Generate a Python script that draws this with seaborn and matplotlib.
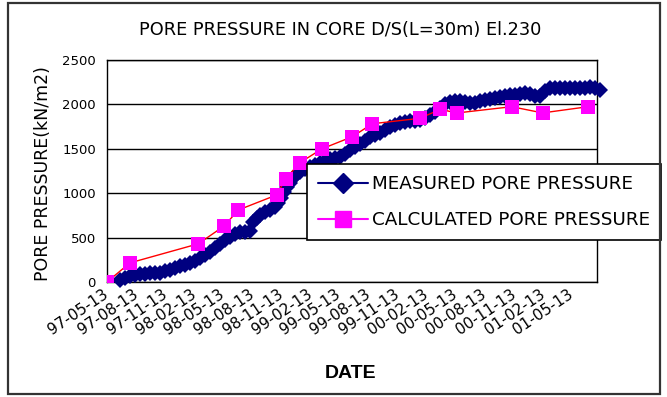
import matplotlib
matplotlib.use("Agg")
import matplotlib.pyplot as plt
from matplotlib.lines import Line2D
from matplotlib.patches import Rectangle
import pandas as pd
import seaborn as sns

# ---- data -------------------------------------------------------------
start_date = "1997-05-13"

# measured piezometer readings: days since start, pressure (kN/m2)
measured_day = [41, 57, 72, 88, 104, 119, 135, 151, 167, 182, 198, 214, 229, 245,
                261, 276, 292, 308, 324, 339, 355, 371, 386, 402, 418, 434, 449, 459,
                471, 481, 496, 512, 528, 537, 547, 556, 566, 575, 584, 594, 606, 622,
                638, 654, 669, 685, 701, 716, 732, 748, 763, 779, 795, 811, 826, 842,
                858, 873, 889, 905, 921, 936, 952, 968, 983, 999, 1015, 1031, 1046,
                1062, 1078, 1093, 1109, 1125, 1141, 1156, 1172, 1188, 1203, 1219, 1235,
                1251, 1266, 1282, 1298, 1313, 1329, 1345, 1360, 1376, 1392, 1408, 1423,
                1439, 1455, 1470, 1486, 1502, 1518, 1533, 1549]
measured_kpa = [20, 50, 65, 80, 85, 95, 100, 100, 105, 125, 140, 160, 175, 190,
                210, 235, 270, 305, 340, 380, 430, 475, 510, 540, 560, 565, 570, 670,
                720, 755, 785, 810, 850, 890, 950, 1010, 1070, 1120, 1170, 1210, 1240, 1270,
                1290, 1320, 1340, 1360, 1380, 1400, 1410, 1440, 1490, 1520, 1550, 1590, 1630, 1660,
                1680, 1710, 1740, 1765, 1790, 1800, 1810, 1815, 1825, 1850, 1880, 1910, 1960,
                2000, 2030, 2040, 2040, 2030, 2010, 2020, 2040, 2050, 2060, 2075, 2085,
                2100, 2110, 2110, 2120, 2125, 2120, 2100, 2090, 2150, 2190, 2190, 2185,
                2180, 2185, 2190, 2185, 2190, 2200, 2190, 2160]

# calculated pore pressure
calc_day = [0, 72, 287, 368, 413, 533, 562, 606, 676, 771, 834, 983, 1048, 1099,
            1272, 1369, 1512]
calc_kpa = [0, 215, 430, 630, 811, 980, 1165, 1343, 1500, 1636, 1782, 1843, 1945, 1903,
            1974, 1904, 1974]

x_tick_labels = ["97-05-13", "97-08-13", "97-11-13", "98-02-13", "98-05-13", "98-08-13",
                 "98-11-13", "99-02-13", "99-05-13", "99-08-13", "99-11-13", "00-02-13",
                 "00-05-13", "00-08-13", "00-11-13", "01-02-13", "01-05-13"]
y_ticks = [0, 500, 1000, 1500, 2000, 2500]

title = "PORE PRESSURE IN CORE D/S(L=30m) El.230"
series_names = ["MEASURED PORE PRESSURE", "CALCULATED PORE PRESSURE"]

# ---- frames -----------------------------------------------------------
t0 = pd.Timestamp(start_date)
measured = pd.DataFrame({"date": t0 + pd.to_timedelta(measured_day, unit="D"),
                         "pressure": measured_kpa})
calculated = pd.DataFrame({"date": t0 + pd.to_timedelta(calc_day, unit="D"),
                           "pressure": calc_kpa})
tick_dates = pd.to_datetime(x_tick_labels, format="%y-%m-%d")

# ---- figure -----------------------------------------------------------
sns.set_style("white")
plt.rcParams["font.family"] = ["DejaVu Sans"]
plt.rcParams["text.color"] = "black"
plt.rcParams["axes.labelcolor"] = "black"
plt.rcParams["xtick.color"] = "black"
plt.rcParams["ytick.color"] = "black"

fig = plt.figure(figsize=(6.67, 3.97), dpi=100)
ax = fig.add_axes([0.1604, 0.2897, 0.7346, 0.5592])

navy = "#000080"
magenta = "#FF00FF"

sns.lineplot(data=measured, x="date", y="pressure", ax=ax, color=navy,
             linewidth=1.0, marker="D", markersize=8, markeredgewidth=0,
             markerfacecolor=navy, clip_on=False, zorder=3)
sns.lineplot(data=calculated, x="date", y="pressure", ax=ax, color="red",
             linewidth=1.0, marker="s", markersize=10, markeredgewidth=0,
             markerfacecolor=magenta, zorder=4)

ax.set_xlim(t0, t0 + pd.Timedelta(days=1540))
ax.set_ylim(0, 2500)
ax.set_yticks(y_ticks)
ax.set_yticklabels([str(v) for v in y_ticks], fontsize=9.5, color="black")
ax.set_xticks(tick_dates)
ax.set_xticklabels(x_tick_labels, rotation=34, ha="right", va="center",
                   rotation_mode="anchor", fontsize=11, color="black")
ax.tick_params(axis="x", length=3, width=1, direction="out", pad=5, color="black")
ax.tick_params(axis="y", length=4, width=1, direction="out", pad=4, color="black")

ax.grid(axis="y", color="black", linewidth=1.0)
ax.grid(axis="x", visible=False)
for s in ax.spines.values():
    s.set_visible(True)
    s.set_color("black")
    s.set_linewidth(1.0)

ax.set_xlabel("")
ax.set_ylabel("PORE PRESSURE(kN/m2)", fontsize=12.5, color="black")
ax.yaxis.set_label_coords(-0.112, 0.49)

fig.text(0.51, 0.925, title, ha="center", va="center", fontsize=12.8, color="black")
fig.text(0.525, 0.058, "DATE", ha="center", va="center", fontsize=14,
         fontweight="bold", family="Liberation Sans", color="black")

handles = [Line2D([], [], color=navy, marker="D", markersize=10, lw=1.5),
           Line2D([], [], color=magenta, marker="s", markersize=11, lw=1.5)]
leg = ax.legend(handles, series_names, loc="upper left",
                bbox_to_anchor=(307 / 667, 1 - 164 / 397),
                bbox_transform=fig.transFigure, fontsize=13.2, frameon=True,
                fancybox=False, framealpha=1, edgecolor="black",
                handlelength=2.7, handletextpad=0.25, labelspacing=1.0,
                borderpad=0.6, borderaxespad=0)
leg.get_frame().set_linewidth(1.2)
leg.set_zorder(10)
for t in leg.get_texts():
    t.set_color("black")

# outer chart border
fig.patches.append(Rectangle((8 / 667, 3 / 397), 652 / 667, 391 / 397,
                             transform=fig.transFigure, fill=False,
                             edgecolor="#333333", linewidth=1.6))

fig.savefig("out.png", dpi=100)
